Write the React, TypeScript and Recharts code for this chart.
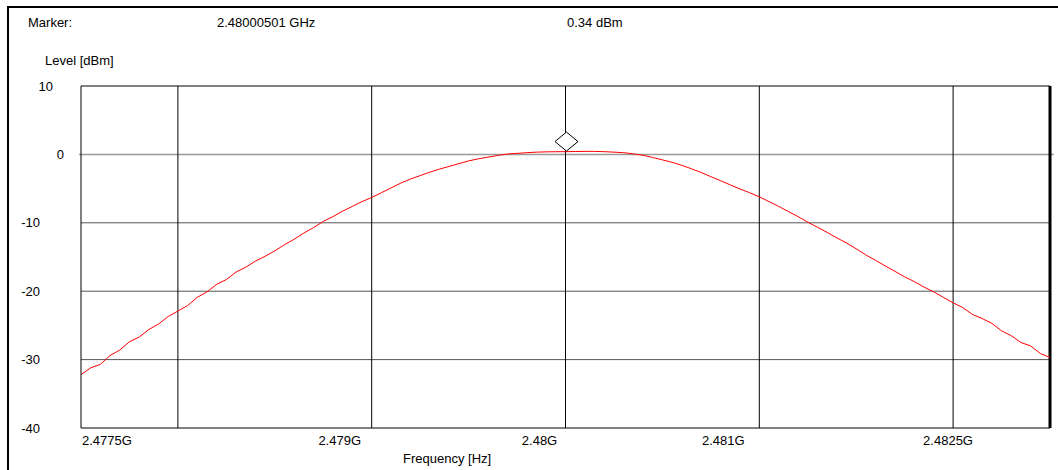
import { LineChart, Line, XAxis, YAxis, ReferenceLine, ReferenceDot } from "recharts";

// sweep points, GHz
const freqGHz = [
  2.4775, 2.47755, 2.4776, 2.47765, 2.4777, 2.47775, 2.4778, 2.47785, 2.4779, 2.47795,
  2.478, 2.47805, 2.4781, 2.47815, 2.4782, 2.47825, 2.4783, 2.47835, 2.4784, 2.47845,
  2.4785, 2.47855, 2.4786, 2.47865, 2.4787, 2.47875, 2.4788, 2.47885, 2.4789, 2.47895,
  2.479, 2.47905, 2.4791, 2.47915, 2.4792, 2.47925, 2.4793, 2.47935, 2.4794, 2.47945,
  2.4795, 2.47955, 2.4796, 2.47965, 2.4797, 2.47975, 2.4798, 2.47985, 2.4799, 2.47995,
  2.48, 2.48005, 2.4801, 2.48015, 2.4802, 2.48025, 2.4803, 2.48035, 2.4804, 2.48045,
  2.4805, 2.48055, 2.4806, 2.48065, 2.4807, 2.48075, 2.4808, 2.48085, 2.4809, 2.48095,
  2.481, 2.48105, 2.4811, 2.48115, 2.4812, 2.48125, 2.4813, 2.48135, 2.4814, 2.48145,
  2.4815, 2.48155, 2.4816, 2.48165, 2.4817, 2.48175, 2.4818, 2.48185, 2.4819, 2.48195,
  2.482, 2.48205, 2.4821, 2.48215, 2.4822, 2.48225, 2.4823, 2.48235, 2.4824, 2.48245,
  2.4825,
];

// measured level, dBm
const levelDbm = [
  -32.2, -31.2, -30.7, -29.4, -28.6, -27.4, -26.7, -25.6, -24.8, -23.7,
  -22.9, -22.1, -20.9, -20.1, -19.0, -18.3, -17.2, -16.5, -15.6, -14.9,
  -14.1, -13.2, -12.4, -11.5, -10.7, -9.8, -9.1, -8.3, -7.6, -6.9,
  -6.3, -5.6, -4.9, -4.2, -3.6, -3.1, -2.6, -2.15, -1.75, -1.35,
  -0.95, -0.65, -0.4, -0.15, 0.05, 0.15, 0.25, 0.33, 0.37, 0.39,
  0.4, 0.42, 0.44, 0.44, 0.4, 0.33, 0.25, 0.08, -0.12, -0.45,
  -0.8, -1.15, -1.6, -2.1, -2.65, -3.25, -3.85, -4.45, -5.05, -5.6,
  -6.2, -6.9, -7.6, -8.35, -9.1, -9.9, -10.65, -11.4, -12.2, -12.95,
  -13.8, -14.7, -15.5, -16.3, -17.1, -17.9, -18.6, -19.4, -20.1, -20.9,
  -21.7, -22.4, -23.4, -24.0, -24.7, -25.8, -26.5, -27.5, -28.0, -29.1,
  -29.7,
];

const xTickValues = [2.477634, 2.478835, 2.479866, 2.480814, 2.481974];
const xTickLabels = ["2.4775G", "2.479G", "2.48G", "2.481G", "2.4825G"];
const yTicks = [10, 0, -10, -20, -30, -40];
const gridFreqs = [2.478, 2.479, 2.48, 2.481, 2.482];
const gridLevels = [-10, -20, -30];

const markerFreq = 2.48000501;
const markerLevel = 0.34;

const data = freqGHz.map((f, i) => ({ f, level: levelDbm[i] }));

const font = "'Liberation Sans', Arial, sans-serif";

function XTick(props: any) {
  const { x, index } = props;
  return (
    <text x={x} y={440} textAnchor="middle" dominantBaseline="central" fontSize={13} fontFamily={font} fill="#000">
      {xTickLabels[index]}
    </text>
  );
}

function YTick(props: any) {
  const { y, payload } = props;
  const v = payload.value;
  // the instrument places these oddly, keep it
  const endX = v < 0 ? 40 : v === 0 ? 64 : 53;
  return (
    <text x={endX} y={y} textAnchor="end" dominantBaseline="central" fontSize={13} fontFamily={font} fill="#000">
      {v}
    </text>
  );
}

function Diamond(props: any) {
  const { cx, cy } = props;
  const b = cy - 1;
  const pts = `${cx},${b} ${cx + 11.5},${b - 9.5} ${cx},${b - 19} ${cx - 11.5},${b - 9.5}`;
  return <polygon points={pts} fill="#fff" stroke="#000" strokeWidth={1} />;
}

const label: React.CSSProperties = {
  position: "absolute",
  fontFamily: font,
  fontSize: 13,
  color: "#000",
  lineHeight: "15px",
  whiteSpace: "nowrap",
};

export default function App() {
  return (
    <div style={{ position: "absolute", left: 0, top: 0, width: 1058, height: 470, background: "#fff", overflow: "hidden" }}>
      <div
        style={{
          position: "absolute",
          left: 7,
          top: 6,
          width: 1051,
          height: 464,
          borderTop: "2px solid #000",
          borderLeft: "2px solid #000",
        }}
      />
      <span style={{ ...label, left: 28, top: 15 }}>Marker:</span>
      <span style={{ ...label, left: 217, top: 15 }}>2.48000501 GHz</span>
      <span style={{ ...label, left: 567, top: 15 }}>0.34 dBm</span>
      <span style={{ ...label, left: 45, top: 53 }}>Level [dBm]</span>
      <span style={{ ...label, left: 403, top: 451 }}>Frequency [Hz]</span>

      <div style={{ position: "absolute", left: 0, top: 0 }}>
        <LineChart width={1058} height={470} data={data} margin={{ top: 86, right: 8, left: 0, bottom: 12 }}>
          <XAxis
            dataKey="f"
            type="number"
            domain={[2.4775, 2.4825]}
            allowDataOverflow
            ticks={xTickValues}
            interval={0}
            tick={<XTick />}
            tickLine={false}
            axisLine={{ stroke: "#000" }}
            height={30}
          />
          <YAxis
            type="number"
            domain={[-40, 10]}
            allowDataOverflow
            ticks={yTicks}
            interval={0}
            tick={<YTick />}
            tickLine={false}
            axisLine={{ stroke: "#000" }}
            width={81}
          />
          {gridLevels.map((v) => (
            <ReferenceLine key={"h" + v} y={v} stroke="#555" strokeWidth={1} />
          ))}
          <ReferenceLine
            segment={[
              { x: 2.47749, y: 0 },
              { x: 2.48252, y: 0 },
            ]}
            ifOverflow="visible"
            stroke="#999"
            strokeWidth={1.5}
          />
          {gridFreqs.map((v) => (
            <ReferenceLine key={"v" + v} x={v} stroke="#000" strokeWidth={1} />
          ))}
          <ReferenceLine y={10} stroke="#000" strokeWidth={1} />
          <ReferenceLine x={2.4825} stroke="#000" strokeWidth={3} />
          <Line
            type="linear"
            dataKey="level"
            stroke="#ff0000"
            strokeWidth={1}
            dot={false}
            isAnimationActive={false}
          />
          <ReferenceDot x={markerFreq} y={markerLevel} shape={<Diamond />} ifOverflow="visible" />
        </LineChart>
      </div>
    </div>
  );
}
